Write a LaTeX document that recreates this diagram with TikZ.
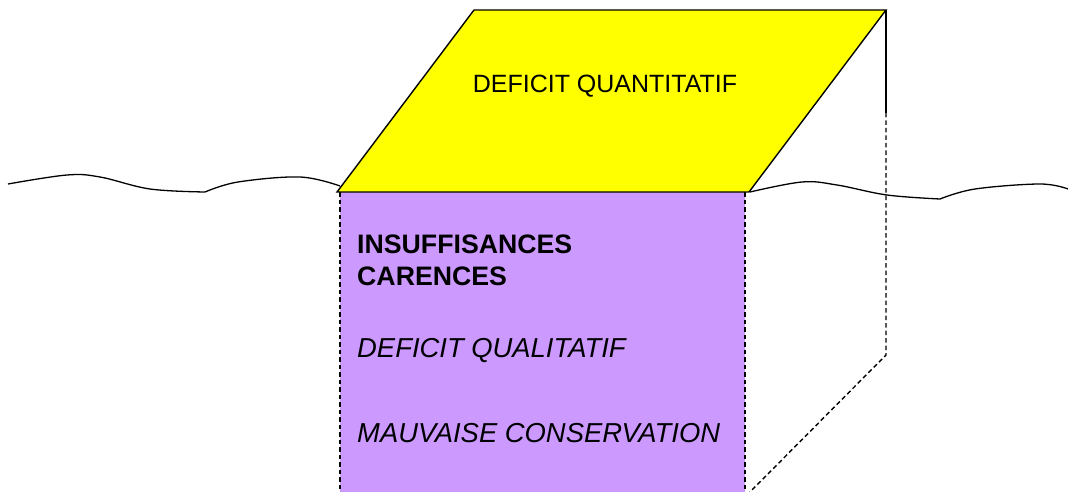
\documentclass[tikz,border=0pt]{standalone}
\usepackage{fontspec}
\setmainfont{Liberation Sans}
\definecolor{topyellow}{HTML}{FFFF00}
\definecolor{boxpurple}{HTML}{CC99FF}
\begin{document}
\begin{tikzpicture}[x=1pt,y=-1pt,
  edge/.style={line width=1.4pt,black},
  dashedge/.style={line width=1.4pt,black,dash pattern=on 4.5pt off 3pt},
  wave/.style={line width=1.3pt,black},
  lbl/.style={inner sep=0pt,anchor=base west}]
\useasboundingbox (0,0) rectangle (1068,492);
% purple front face
\fill[boxpurple] (340,192) rectangle (745,493);
\draw[dashedge] (340,192) -- (340,493);
\draw[dashedge] (745,192) -- (745,493);
% yellow top
\draw[edge,fill=topyellow,line join=miter] (474,10) -- (886,10) -- (749,192) -- (337,192) -- cycle;
% right hidden edges
\draw[edge] (886,10) -- (886,113);
\draw[dashedge] (886,113) -- (886,355) -- (749,493);
% ground line
\draw[wave] plot[smooth,tension=0.6] coordinates {(8,184) (67,175) (100,177) (150,189) (205,192)};
\draw[wave] plot[smooth,tension=0.6] coordinates {(205,192) (238,182) (300,177) (340,186)};
\draw[wave] plot[smooth,tension=0.6] coordinates {(750,192) (802,182) (837,185) (887,195) (940,199)};
\draw[wave] plot[smooth,tension=0.6] coordinates {(940,199) (975,189) (1040,184) (1068,189)};
% texts
\node[inner sep=0pt,anchor=base,font=\fontsize{25}{30}\selectfont] (quant) at (605,93) {DEFICIT QUANTITATIF};
\node[lbl,font=\fontsize{26.7}{31}\selectfont\bfseries] (insuf) at (357,253) {INSUFFISANCES};
\node[lbl,font=\fontsize{26.7}{31}\selectfont\bfseries] (caren) at (357,285) {CARENCES};
\node[lbl,font=\fontsize{27.4}{31}\selectfont\itshape] (qual) at (357,357) {DEFICIT QUALITATIF};
\node[lbl,font=\fontsize{27.4}{31}\selectfont\itshape] (mauv) at (357,442) {MAUVAISE CONSERVATION};
\end{tikzpicture}
\end{document}
